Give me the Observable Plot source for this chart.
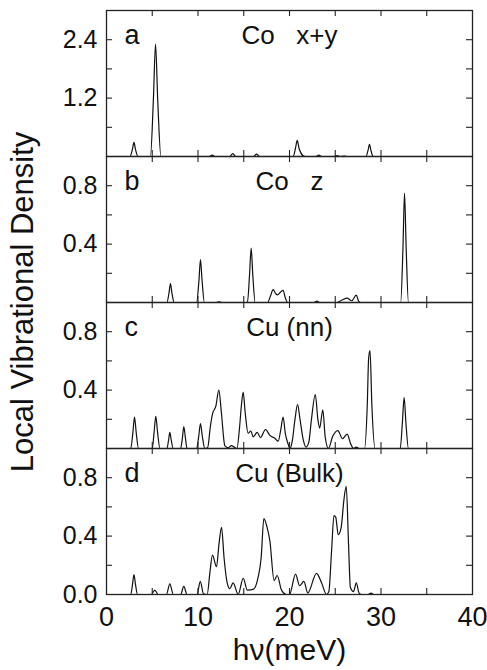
<!DOCTYPE html>
<html><head><meta charset="utf-8">
<script src="https://cdn.jsdelivr.net/npm/d3@7"></script>
<script src="https://cdn.jsdelivr.net/npm/@observablehq/plot@0.6"></script>
<style>
body{margin:0;background:#fff;}
#wrap{position:relative;width:487px;height:670px;font-family:"Liberation Sans",Arial,sans-serif;overflow:hidden;}
#wrap svg{position:absolute;left:0;}
#ylab{position:absolute;left:22px;top:302px;transform:translate(-50%,-50%) rotate(-90deg);font-size:31px;line-height:1;white-space:nowrap;color:#111;}
</style></head><body><div id="wrap"><div id="ylab">Local Vibrational Density</div></div>
<script>
// ---- data ----
const xTicks = [5, 10, 15, 20, 25, 30, 35];
const xLabels = [0, 10, 20, 30, 40];
const xTitle = "hν(meV)";

const aTitle = "Co   x+y";
const aTicks = [0.6, 1.2, 1.8, 2.4];
const aLabels = [1.2, 2.4];
const aX = [0, 2.55, 2.83, 3.0, 3.17, 3.45, 4.8, 5.12, 5.36, 5.6, 5.95, 11.25, 11.55, 11.85, 13.45, 13.8, 14.15, 16.05, 16.4, 16.75, 20.4, 20.65, 20.84, 21.05, 21.45, 21.7, 22.9, 23.2, 23.5, 24.9, 25.2, 25.5, 26.0, 26.3, 28.35, 28.58, 28.74, 28.9, 29.15, 40];
const aY = [0, 0, 0.145, 0.29, 0.145, 0, 0, 1.15, 2.31, 1.15, 0, 0, 0.03, 0, 0, 0.06, 0, 0, 0.05, 0, 0, 0.165, 0.33, 0.165, 0.02, 0, 0, 0.03, 0, 0, 0.02, 0, 0.01, 0, 0, 0.125, 0.25, 0.125, 0, 0];

const bTitle = "Co   z";
const bTicks = [0.2, 0.4, 0.6, 0.8];
const bLabels = [0.4, 0.8];
const bX = [0, 6.6, 6.83, 6.99, 7.15, 7.4, 9.85, 10.1, 10.27, 10.45, 10.7, 12.0, 12.3, 12.6, 15.4, 15.63, 15.81, 15.99, 16.25, 17.6, 17.95, 18.2, 18.5, 18.7, 19.0, 19.3, 19.55, 19.8, 22.7, 22.98, 23.3, 25.2, 25.7, 26.3, 26.8, 27.3, 27.55, 27.8, 32.15, 32.4, 32.57, 32.75, 33.0, 40];
const bY = [0, 0, 0.065, 0.13, 0.065, 0, 0, 0.147, 0.294, 0.147, 0, 0, 0.005, 0, 0, 0.186, 0.373, 0.186, 0, 0, 0.05, 0.088, 0.06, 0.052, 0.07, 0.083, 0.03, 0, 0, 0.01, 0, 0, 0.015, 0.03, 0.012, 0.05, 0.01, 0, 0, 0.375, 0.75, 0.375, 0, 0];

const cTitle = "Cu (nn)";
const cTicks = [0.2, 0.4, 0.6, 0.8];
const cLabels = [0.4, 0.8];
const cX = [0, 2.65, 2.88, 3.06, 3.25, 3.5, 5.0, 5.2, 5.39, 5.58, 5.85, 6.6, 6.78, 6.92, 7.08, 7.3, 8.1, 8.3, 8.45, 8.62, 8.8, 9.85, 10.08, 10.27, 10.47, 10.75, 11.05, 11.35, 11.58, 11.95, 12.28, 12.55, 12.93, 13.3, 13.66, 13.95, 14.25, 14.55, 14.75, 14.94, 15.15, 15.48, 15.77, 16.03, 16.47, 16.83, 17.38, 17.85, 18.4, 18.76, 19.05, 19.3, 19.55, 19.85, 20.05, 20.3, 20.6, 20.88, 21.15, 21.5, 21.8, 22.1, 22.4, 22.82, 23.1, 23.3, 23.64, 23.9, 24.26, 24.7, 25.28, 25.8, 26.3, 26.7, 27.0, 27.3, 27.6, 28.2, 28.5, 28.65, 28.8, 29.0, 29.36, 32.1, 32.33, 32.53, 32.73, 33.0, 40];
const cY = [0, 0, 0.107, 0.215, 0.107, 0, 0, 0.11, 0.22, 0.11, 0, 0, 0.055, 0.11, 0.055, 0, 0, 0.075, 0.15, 0.075, 0, 0, 0.085, 0.17, 0.085, 0, 0.005, 0.15, 0.235, 0.29, 0.40, 0.25, 0.02, 0.005, 0.02, 0.01, 0, 0.15, 0.3, 0.386, 0.25, 0.105, 0.12, 0.08, 0.11, 0.075, 0.13, 0.09, 0.07, 0.05, 0.13, 0.215, 0.1, 0.03, 0, 0.05, 0.2, 0.30, 0.2, 0.06, 0.01, 0.04, 0.2, 0.37, 0.2, 0.14, 0.265, 0.08, 0, 0.08, 0.123, 0.067, 0.098, 0.03, 0, 0.01, 0, 0, 0.3, 0.62, 0.67, 0.3, 0, 0, 0.17, 0.35, 0.17, 0, 0];

const dTitle = "Cu (Bulk)";
const dTicks = [0.2, 0.4, 0.6, 0.8];
const dLabels = [0.0, 0.4, 0.8];
const dX = [0, 2.65, 2.84, 3.0, 3.17, 3.4, 4.9, 5.28, 5.65, 6.55, 6.92, 7.3, 8.1, 8.45, 8.8, 9.9, 10.25, 10.6, 11.0, 11.3, 11.58, 12.02, 12.3, 12.57, 12.85, 13.19, 13.48, 13.84, 14.39, 14.94, 15.4, 16.03, 16.58, 16.9, 17.2, 17.55, 17.85, 18.32, 18.65, 19.13, 19.67, 20.0, 20.66, 21.1, 21.57, 22.0, 22.95, 23.5, 24.05, 24.3, 24.6, 24.86, 25.05, 25.33, 25.65, 25.95, 26.2, 26.45, 26.65, 27.0, 27.3, 27.6, 27.9, 28.6, 28.9, 29.2, 40];
const dY = [0, 0, 0.068, 0.136, 0.068, 0, 0, 0.03, 0, 0, 0.073, 0, 0, 0.055, 0, 0, 0.09, 0.005, 0, 0.15, 0.27, 0.19, 0.35, 0.46, 0.25, 0.08, 0.04, 0.08, 0, 0.11, 0.03, 0.035, 0.12, 0.25, 0.52, 0.46, 0.37, 0.095, 0.13, 0.03, 0, 0, 0.14, 0.06, 0.09, 0.01, 0.145, 0.08, 0, 0.02, 0.3, 0.54, 0.53, 0.41, 0.46, 0.65, 0.74, 0.35, 0.05, 0.02, 0.08, 0.01, 0, 0, 0.01, 0, 0];

// ---- layout ----
const W = 487, ML = 106, MR = 15, INNER = 146, TICK = 6;
const innerW = W - ML - MR;
const font = '"Liberation Sans", Arial, sans-serif';

function panel({xs, ys, yMax, yTicks, yLabels, letter, title, top, last}) {
  const mb = last ? 76 : 10;
  const marks = [
    Plot.line({length: xs.length}, {x: xs, y: ys, curve: "monotone-x", stroke: "#111", strokeWidth: 1.2}),
    Plot.ruleX(xTicks, {insetTop: INNER - TICK, stroke: "#222", strokeWidth: 1.1}),
    Plot.ruleX(xTicks, {insetBottom: INNER - TICK, stroke: "#222", strokeWidth: 1.1}),
    Plot.ruleY(yTicks, {insetRight: innerW - TICK, stroke: "#222", strokeWidth: 1.1}),
    Plot.ruleY(yTicks, {insetLeft: innerW - TICK, stroke: "#222", strokeWidth: 1.1}),
    Plot.frame({stroke: "#222", strokeWidth: 1.3}),
    Plot.axisY({ticks: yLabels, tickSize: 0, tickPadding: 9, fontSize: 25, tickFormat: d3.format(".1f"), label: null, fill: "#111"}),
    Plot.text([letter], {frameAnchor: "top-left", dx: 18, dy: 33, lineAnchor: "bottom", textAnchor: "start", fontSize: 27, fill: "#111"}),
    Plot.text([title], {frameAnchor: "top", dy: 33, lineAnchor: "bottom", textAnchor: "middle", fontSize: 26, fill: "#111"})
  ];
  if (last) {
    marks.push(Plot.axisX({ticks: xLabels, tickSize: 0, tickPadding: 12, fontSize: 27, label: null, fill: "#111"}));
    marks.push(Plot.text([xTitle], {frameAnchor: "bottom", dy: 65, lineAnchor: "bottom", textAnchor: "middle", fontSize: 30, fill: "#111"}));
  }
  const svg = Plot.plot({
    width: W, height: 10 + INNER + mb,
    marginLeft: ML, marginRight: MR, marginTop: 10, marginBottom: mb,
    x: {domain: [0, 40], axis: null},
    y: {domain: [0, yMax], axis: null},
    style: {fontFamily: font, background: "transparent", overflow: "visible"},
    marks
  });
  svg.style.top = top + "px";
  return svg;
}

const wrap = document.getElementById("wrap");
wrap.append(panel({xs: aX, ys: aY, yMax: 3.0, yTicks: aTicks, yLabels: aLabels, letter: "a", title: aTitle, top: 0}));
wrap.append(panel({xs: bX, ys: bY, yMax: 1.0, yTicks: bTicks, yLabels: bLabels, letter: "b", title: bTitle, top: 146}));
wrap.append(panel({xs: cX, ys: cY, yMax: 1.0, yTicks: cTicks, yLabels: cLabels, letter: "c", title: cTitle, top: 292}));
wrap.append(panel({xs: dX, ys: dY, yMax: 1.0, yTicks: dTicks, yLabels: dLabels, letter: "d", title: dTitle, top: 438, last: true}));
</script></body></html>
